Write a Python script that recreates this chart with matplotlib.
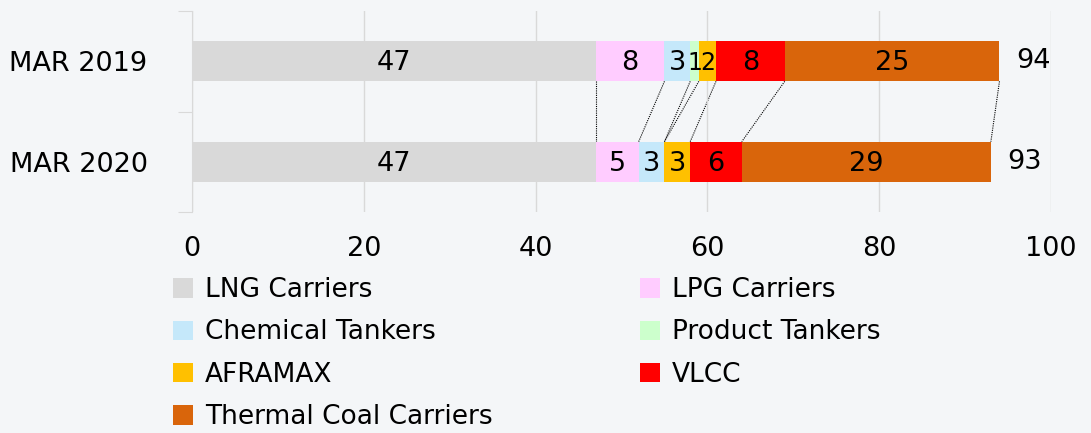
import numpy as np
import matplotlib.pyplot as plt
from matplotlib.patches import Patch

# fleet composition (number of vessels)
periods = ["MAR 2019", "MAR 2020"]
categories = ["LNG Carriers", "LPG Carriers", "Chemical Tankers", "Product Tankers",
              "AFRAMAX", "VLCC", "Thermal Coal Carriers"]
mar2019 = [47, 8, 3, 1, 2, 8, 25]
mar2020 = [47, 5, 3, 0, 3, 6, 29]
colors = ["#d9d9d9", "#ffccff", "#c5e8fa", "#ccffcc", "#ffc000", "#ff0000", "#d9650b"]

plt.rcParams['font.family'] = ['DejaVu Sans']

fig = plt.figure(figsize=(10.91, 4.33), dpi=100, facecolor="#f4f6f8")
ax = fig.add_axes([192 / 1091, 1 - 212 / 433, (1051 - 192) / 1091, 201 / 433])
ax.set_facecolor("none")

data = np.array([mar2019, mar2020])
ypos = np.arange(len(periods))
bar_h = 0.4
lefts = np.zeros(len(periods))
for i, cat in enumerate(categories):
    vals = data[:, i]
    ax.barh(ypos, vals, left=lefts, height=bar_h, color=colors[i], zorder=2)
    for y, v, l in zip(ypos, vals, lefts):
        if v > 0:
            # narrow segments get a slightly smaller label so neighbours just touch
            fs = 19.5 if v > 2 else 17
            ax.text(l + v / 2, y + 0.02, str(v), ha="center", va="center", fontsize=fs, zorder=3)
    lefts = lefts + vals

# totals to the right of the bars
for y, tot in zip(ypos, data.sum(axis=1)):
    ax.annotate(str(tot), (tot, y), xytext=(12, 0), textcoords="offset points",
                ha="left", va="center", fontsize=19.5)

# dotted connectors between segment boundaries
cum19 = np.cumsum(mar2019)
cum20 = np.cumsum(mar2020)
for a, b in zip(cum19, cum20):
    ax.plot([a, b], [0 + bar_h / 2, 1 - bar_h / 2], color="black", lw=0.8,
            linestyle=(0, (1, 1)), zorder=1)

ax.set_xlim(0, 100)
ax.set_ylim(1.5, -0.5)
ax.set_xticks(np.arange(0, 101, 20))
ax.set_yticks([-0.5, 0.5, 1.5], minor=False)
ax.set_yticklabels([])
ax.set_yticks(ypos, minor=True)
ax.set_yticklabels(periods, minor=True)
ax.tick_params(axis="y", which="minor", length=0, pad=32, labelsize=19.5)
ax.tick_params(axis="y", which="major", length=10, color="#d9d9d9")
ax.tick_params(axis="x", length=0, pad=17, labelsize=19.5)
ax.grid(axis="x", color="#d9d9d9", lw=1, zorder=0)
for s in ["top", "right", "bottom"]:
    ax.spines[s].set_visible(False)
ax.spines["left"].set_color("#d9d9d9")

# legend filled row by row like the original (matplotlib fills by column)
order = [0, 2, 4, 6, 1, 3, 5]
handles = [Patch(facecolor=colors[i], edgecolor="none") for i in order]
labels = [categories[i] for i in order]
fig.legend(handles, labels, loc="upper left", bbox_to_anchor=(152 / 1091, 1 - 256 / 433),
           ncol=2, frameon=False, fontsize=19, handlelength=0.75, handleheight=0.75,
           handletextpad=0.45, columnspacing=5.6, labelspacing=0.62, borderpad=0.3)

fig.savefig("out.png", dpi=100, facecolor=fig.get_facecolor())
